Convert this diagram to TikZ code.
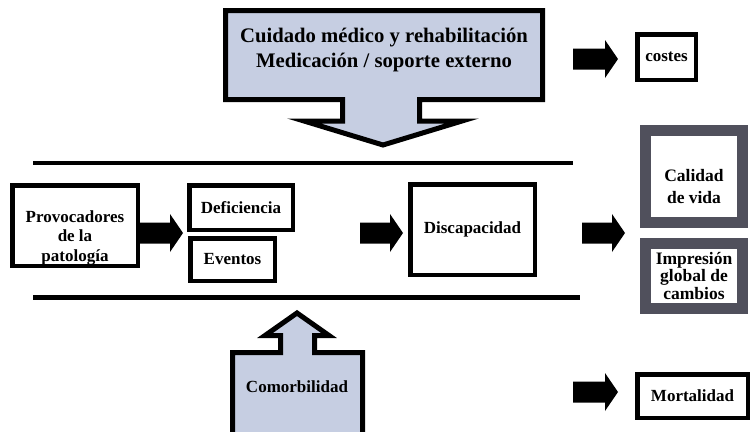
\documentclass[tikz,border=0pt]{standalone}
\usepackage{fontspec}
\setmainfont{Liberation Serif}
\usetikzlibrary{calc}

\definecolor{calloutfill}{RGB}{198,206,226}
\definecolor{framegray}{RGB}{80,80,92}

\tikzset{
  box/.style={draw=black, line width=4.5pt, fill=white, inner sep=0pt,
    font=\fontsize{17}{19.5}\selectfont\bfseries, align=center},
  boxline/.style={box, fill=none},
  grayframe/.style={box, draw=framegray, line width=11pt},
  lbl/.style={inner sep=0pt, align=center, font=\fontsize{17}{19.5}\selectfont\bfseries},
  callout/.style={draw=black, line width=5pt, fill=calloutfill, line join=miter},
  band/.style={line width=4.5pt},
  fatarrow/.style={fill=black},
}

% fat arrow pointing right: #1 tip, #2 length
\newcommand{\fatarrow}[2]{%
  \fill[fatarrow] #1 -- ++(-13,-19) -- ++(0,8.5) -- ++(13-#2,0) -- ++(0,21)
    -- ++(#2-13,0) -- ++(0,8.5) -- cycle;}

\begin{document}
\begin{tikzpicture}[x=1pt,y=-1pt]
  \useasboundingbox (0,0) rectangle (752,431);
  \clip (0,0) rectangle (752,431);

  % external care
  \draw[callout] (225.5,10.5) -- (542.5,10.5) -- (542.5,99.5) -- (419.5,99.5)
    -- (419.5,121) -- (462,121) -- (383,145) -- (304,121) -- (342.5,121)
    -- (342.5,99.5) -- (225.5,99.5) -- cycle;
  \node[lbl, font=\fontsize{20.7}{25}\selectfont\bfseries] (care) at (384,50)
    {Cuidado médico y rehabilitación\\Medicación / soporte externo};

  % comorbidity
  \draw[callout] (232.5,440) -- (232.5,352.5) -- (280.5,352.5) -- (280.5,335.5)
    -- (265,335.5) -- (297,313) -- (329,335.5) -- (314.5,335.5)
    -- (314.5,352.5) -- (362.5,352.5) -- (362.5,440) -- cycle;
  \node[lbl] (comorb) at (297,387) {Comorbilidad};

  \draw[band] (33,163) -- (573,163);
  \draw[band, line width=5pt] (33,297) -- (580,297);
  \coordinate (row) at (0,233);

  \node[lbl] (provtxt) at (75,237.5) {Provocadores\\de la\\patología};
  \node[boxline, minimum width=125.5, minimum height=80.5] (prov) at (75,225.5) {};
  \node[box, minimum width=103.5, minimum height=44.5] (def) at (241,207.5) {Deficiencia};
  \node[box, minimum width=84.5, minimum height=42.5] (evt) at (232.5,259.5) {Eventos};
  \node[box, minimum width=124.5, minimum height=90.5] (disc) at (472.5,229.5) {Discapacidad};

  \node[box, minimum width=58.5, minimum height=45.5] (costes) at (666.5,57) {costes};
  \node[grayframe, minimum width=97, minimum height=92] (calidad) at (694,176.5) {};
  \node[lbl, font=\fontsize{17.5}{22}\selectfont\bfseries] (calidadtxt) at (694,187) {Calidad\\de vida};
  \node[grayframe, minimum width=97, minimum height=65,
    font=\fontsize{17.5}{17.5}\selectfont\bfseries] (impr) at (694,276) {Impresión\\global de\\cambios};
  \node[box, minimum width=110.5, minimum height=43.5] (mort) at (692.5,396) {Mortalidad};

  \fatarrow{($(def.west |- row)+(-4,0)$)}{43}
  \fatarrow{($(disc.west |- row)+(-5,0)$)}{43}
  \fatarrow{($(calidad.west |- row)+(-15,0)$)}{43}
  \fatarrow{($(costes.west)+(-17,2)$)}{45}
  \fatarrow{($(mort.west)+(-17,-4)$)}{45}
\end{tikzpicture}
\end{document}
